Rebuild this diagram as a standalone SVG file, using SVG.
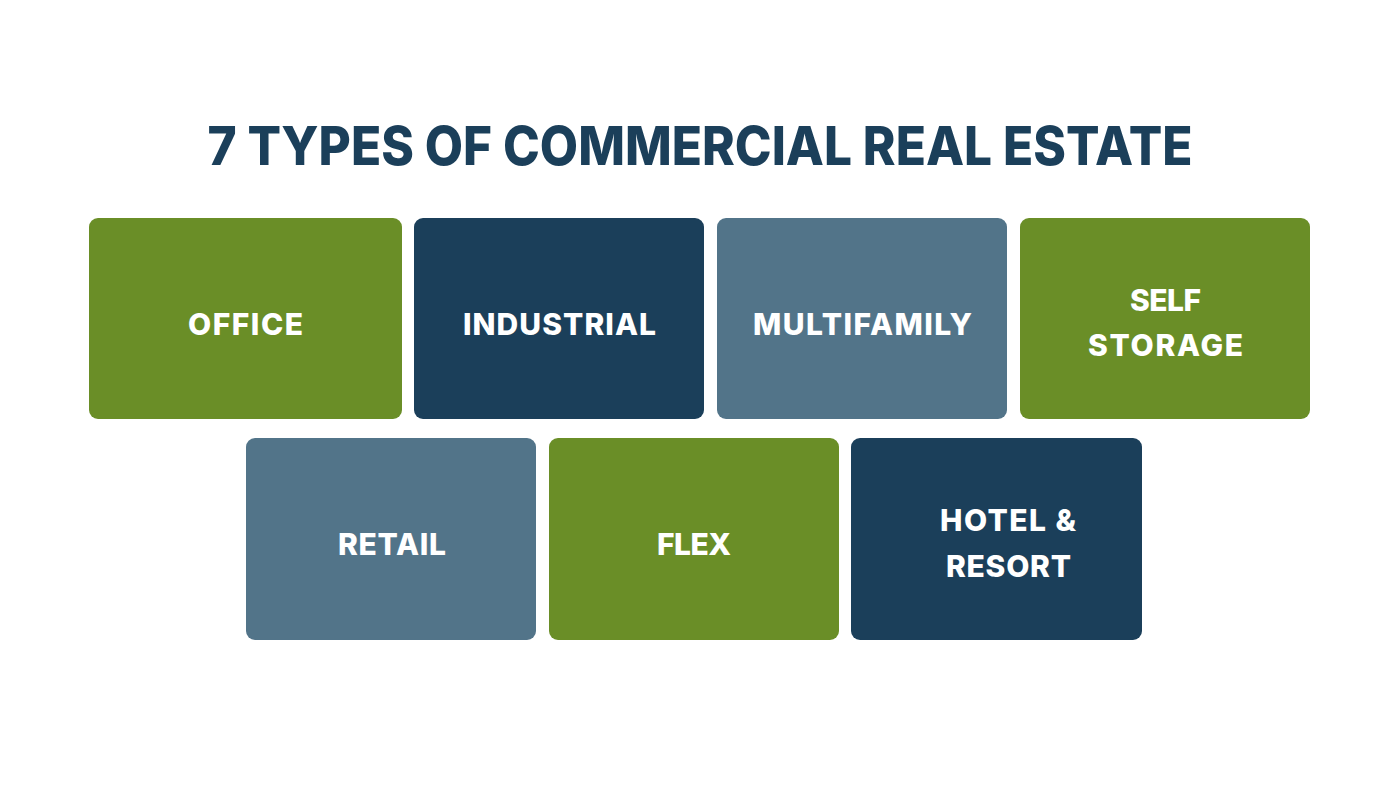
<svg xmlns="http://www.w3.org/2000/svg" width="1400" height="787" viewBox="0 0 1400 787">
<style>
.t{font-family:Inter,"Open Sans","Liberation Sans",sans-serif;font-weight:800;fill:#1b3f5a;font-size:54px;text-anchor:middle}
.l{font-family:Inter,"Open Sans","Liberation Sans",sans-serif;font-weight:800;fill:#ffffff;font-size:30px;text-anchor:middle}
.g{fill:#6a8e27}.n{fill:#1b3f5a}.s{fill:#527489}
</style>
<rect width="1400" height="787" fill="#ffffff"/>
<text class="t" x="700" y="165" textLength="985" lengthAdjust="spacingAndGlyphs">7 TYPES OF COMMERCIAL REAL ESTATE</text>
<g id="office"><rect class="g" x="89" y="218" width="313" height="201" rx="9"/><text class="l" x="245.5" y="335" textLength="115">OFFICE</text></g>
<g id="industrial"><rect class="n" x="414" y="218" width="290" height="201" rx="9"/><text class="l" x="559.5" y="335" textLength="193">INDUSTRIAL</text></g>
<g id="multifamily"><rect class="s" x="717" y="218" width="290" height="201" rx="9"/><text class="l" x="862.5" y="335" textLength="219">MULTIFAMILY</text></g>
<g id="selfstorage"><rect class="g" x="1020" y="218" width="290" height="201" rx="9"/><text class="l" x="1165.5" y="311" textLength="71">SELF</text><text class="l" x="1165.5" y="356" textLength="155">STORAGE</text></g>
<g id="retail"><rect class="s" x="246" y="438" width="290" height="202" rx="9"/><text class="l" x="392" y="555" textLength="108">RETAIL</text></g>
<g id="flex"><rect class="g" x="549" y="438" width="290" height="202" rx="9"/><text class="l" x="694" y="555" textLength="74">FLEX</text></g>
<g id="hotel"><rect class="n" x="851" y="438" width="291" height="202" rx="9"/><text class="l" x="1008" y="531" textLength="136">HOTEL &amp;</text><text class="l" x="1008.5" y="577" textLength="125">RESORT</text></g>
<g id="connectors"/>
</svg>
